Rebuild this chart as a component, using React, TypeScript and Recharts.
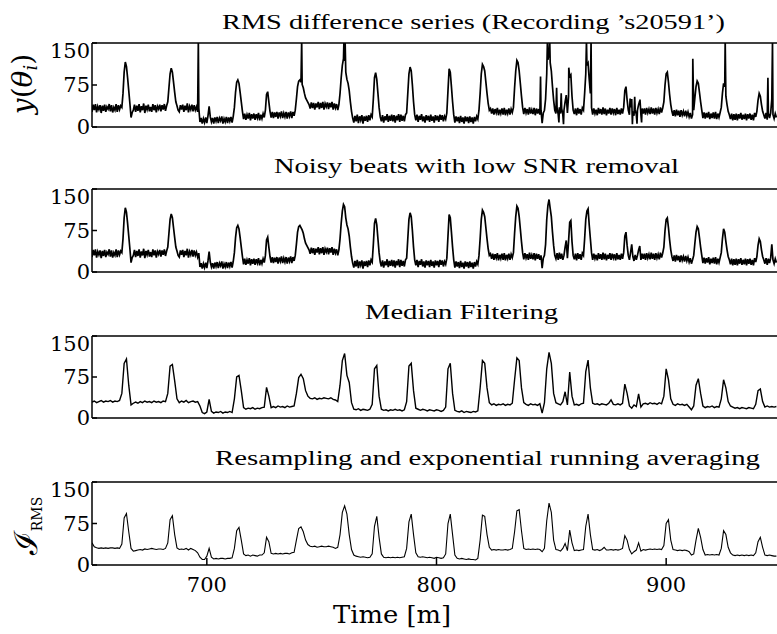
import React from "react";
import { LineChart, Line, XAxis, YAxis } from "recharts";

// time axis starts here; noisy series are sampled every half minute, filtered ones every minute
const startMinute = 650;
const timeDomain: [number, number] = [650, 950];
const timeTicks = [700, 800, 900];
const levelTicks = [0, 75, 150];

// low SNR beats removed (panel 2), also the base of the raw series (0.5 min steps)
const snrValues = [
  27, 40, 30, 41, 26, 37, 31, 39, 25, 38, 29, 40, 27, 36, 32, 41, 28, 39, 26, 35,
  30, 41, 27, 39, 31, 38, 35, 60, 98, 116, 108, 88, 65, 42, 17, 26, 30, 40, 27, 38,
  29, 41, 26, 37, 30, 42, 25, 38, 31, 40, 28, 36, 27, 41, 30, 39, 26, 37, 32, 40,
  28, 39, 31, 41, 29, 38, 45, 70, 95, 105, 98, 80, 62, 45, 38, 30, 27, 39, 31, 40,
  27, 38, 30, 42, 26, 37, 31, 40, 28, 39, 30, 36, 27, 34, 9, 16, 6, 15, 8, 17,
  7, 20, 37, 18, 9, 16, 6, 17, 10, 18, 7, 16, 11, 19, 6, 15, 9, 18, 7, 17,
  10, 18, 8, 19, 35, 62, 80, 84, 78, 62, 45, 28, 14, 24, 13, 22, 15, 25, 12, 23,
  15, 24, 13, 23, 16, 25, 12, 22, 15, 24, 17, 30, 58, 63, 45, 28, 17, 27, 16, 26,
  18, 27, 15, 26, 19, 28, 16, 25, 18, 27, 15, 26, 19, 28, 16, 27, 20, 30, 50, 72,
  82, 84, 80, 76, 70, 60, 52, 48, 44, 40, 33, 44, 34, 43, 31, 42, 35, 45, 32, 43,
  34, 45, 31, 42, 36, 44, 32, 43, 35, 45, 31, 42, 34, 41, 30, 40, 60, 88, 110, 122,
  118, 98, 85, 78, 65, 45, 28, 16, 8, 20, 10, 22, 7, 19, 12, 21, 6, 19, 11, 20,
  9, 21, 12, 22, 18, 50, 88, 97, 85, 60, 35, 18, 10, 21, 8, 19, 12, 23, 9, 20,
  11, 22, 10, 21, 8, 20, 12, 23, 9, 22, 11, 20, 10, 22, 25, 60, 95, 107, 100, 75,
  45, 22, 12, 22, 9, 20, 13, 23, 10, 19, 8, 21, 12, 20, 9, 22, 11, 19, 8, 21,
  12, 20, 9, 22, 13, 21, 10, 19, 14, 25, 65, 104, 98, 72, 45, 22, 8, 19, 10, 18,
  7, 20, 9, 17, 6, 19, 10, 18, 7, 19, 9, 17, 6, 18, 10, 19, 14, 30, 60, 95,
  112, 108, 100, 80, 60, 42, 30, 33, 24, 33, 22, 32, 25, 34, 21, 31, 24, 33, 22, 34,
  21, 31, 24, 33, 22, 32, 26, 35, 70, 100, 119, 115, 100, 78, 55, 35, 23, 34, 25, 32,
  22, 35, 24, 31, 23, 34, 21, 33, 24, 32, 22, 30, 7, 25, 30, 50, 95, 120, 131, 115,
  100, 72, 48, 30, 24, 34, 22, 35, 24, 33, 22, 30, 45, 57, 25, 55, 90, 93, 55, 30,
  23, 33, 21, 34, 24, 32, 22, 34, 30, 60, 95, 110, 114, 85, 60, 35, 22, 33, 24, 31,
  21, 34, 24, 32, 22, 35, 23, 33, 21, 31, 24, 34, 22, 33, 25, 32, 21, 34, 23, 31,
  22, 33, 24, 35, 65, 72, 48, 30, 22, 35, 50, 28, 20, 31, 22, 30, 40, 47, 22, 33,
  24, 33, 22, 34, 25, 32, 23, 35, 24, 33, 22, 34, 25, 32, 23, 35, 26, 34, 45, 75,
  95, 98, 80, 58, 40, 28, 20, 30, 19, 31, 21, 29, 18, 30, 21, 28, 19, 29, 20, 27,
  18, 25, 15, 22, 30, 52, 72, 82, 78, 62, 45, 30, 16, 26, 15, 25, 17, 27, 14, 24,
  16, 26, 15, 27, 14, 24, 17, 26, 35, 60, 78, 72, 55, 40, 28, 22, 14, 24, 12, 23,
  13, 24, 12, 23, 15, 25, 13, 22, 14, 24, 12, 23, 15, 24, 13, 22, 12, 25, 18, 28,
  48, 60, 55, 40, 28, 22, 15, 25, 13, 24, 16, 25, 50, 22, 15, 24, 17,
];

// artefacts only present in the raw difference series: [minute, value]
const rawBursts: [number, number][] = [
  [696.3, 155], [741.3, 155], [759.7, 155], [760.2, 155],
  [845.3, 90], [848.3, 155], [849.3, 155], [852.3, 70],
  [853.3, 8], [854.3, 60], [855.3, 5], [857.6, 106],
  [865.3, 155], [867.3, 155],
  [884.3, 51], [885.3, 5], [886.3, 54], [887.3, 6], [888.6, 49], [889.3, 8],
  [911.6, 122], [925.7, 155], [944.3, 88], [946.3, 155],
];

// median filtered (1 min steps)
const medianValues = [
  29, 31, 28, 30, 32, 29, 31, 30, 32, 29,
  31, 30, 32, 45, 100, 108, 60, 24, 27, 29,
  27, 30, 28, 31, 29, 30, 28, 31, 29, 30,
  28, 31, 30, 45, 95, 98, 68, 35, 28, 31,
  29, 32, 28, 30, 31, 29, 30, 22, 10, 8,
  11, 34, 12, 9, 11, 10, 12, 9, 11, 10,
  12, 10, 35, 75, 78, 50, 19, 16, 18, 17,
  19, 16, 18, 17, 19, 20, 56, 40, 19, 21,
  19, 22, 20, 21, 19, 22, 20, 21, 22, 45,
  74, 80, 72, 50, 40, 36, 35, 37, 34, 36,
  35, 37, 36, 35, 37, 34, 33, 30, 60, 105,
  118, 78, 65, 28, 16, 15, 17, 14, 16, 15,
  14, 16, 25, 90, 96, 40, 16, 14, 15, 13,
  15, 14, 16, 14, 15, 13, 15, 30, 95, 100,
  50, 18, 16, 14, 16, 15, 13, 15, 14, 13,
  15, 14, 12, 14, 20, 90, 100, 45, 14, 12,
  11, 13, 10, 12, 11, 10, 12, 11, 13, 55,
  105, 100, 55, 28, 24, 26, 23, 25, 24, 26,
  23, 25, 24, 27, 70, 110, 105, 55, 28, 25,
  23, 26, 24, 25, 23, 26, 9, 28, 90, 120,
  100, 45, 28, 26, 24, 30, 48, 24, 84, 40,
  24, 25, 23, 26, 27, 85, 106, 55, 27, 25,
  26, 24, 26, 25, 24, 27, 33, 25, 24, 26,
  24, 27, 62, 45, 22, 18, 24, 21, 44, 20,
  26, 27, 25, 28, 26, 27, 25, 28, 26, 40,
  90, 70, 35, 25, 23, 26, 24, 25, 23, 25,
  20, 15, 22, 60, 72, 45, 22, 19, 21, 20,
  22, 19, 21, 20, 35, 70, 55, 30, 22, 20,
  18, 19, 17, 19, 18, 17, 19, 18, 17, 25,
  50, 53, 30, 20, 22, 20, 21, 20, 21,
];

// resampled + exponential running average (1 min steps)
const averagedValues = [
  40, 33, 31, 30, 31, 30, 31, 30, 31, 31,
  30, 31, 30, 38, 85, 93, 60, 30, 25, 26,
  27, 28, 27, 29, 28, 29, 30, 29, 28, 29,
  29, 28, 30, 40, 82, 89, 55, 31, 28, 29,
  28, 30, 27, 30, 28, 26, 22, 14, 10, 10,
  16, 30, 14, 11, 12, 11, 12, 12, 11, 12,
  12, 13, 30, 62, 68, 45, 20, 17, 18, 16,
  18, 17, 16, 18, 18, 22, 50, 42, 21, 20,
  21, 20, 21, 20, 21, 21, 20, 22, 23, 45,
  66, 69, 60, 45, 37, 34, 33, 34, 32, 33,
  34, 33, 33, 34, 33, 32, 30, 32, 55, 95,
  107, 92, 55, 28, 18, 16, 15, 14, 15, 14,
  13, 14, 20, 70, 88, 50, 20, 14, 13, 14,
  13, 14, 13, 14, 13, 14, 15, 30, 78, 92,
  55, 22, 15, 14, 15, 14, 13, 14, 13, 12,
  14, 13, 12, 13, 20, 75, 92, 55, 18, 12,
  11, 12, 11, 10, 11, 10, 10, 9, 12, 45,
  90, 88, 55, 32, 27, 28, 27, 28, 27, 27,
  28, 27, 28, 30, 60, 98, 100, 62, 30, 28,
  29, 28, 29, 28, 29, 28, 24, 30, 80, 112,
  95, 45, 28, 27, 25, 30, 39, 26, 63, 40,
  26, 27, 26, 27, 28, 70, 92, 55, 28, 27,
  28, 26, 28, 32, 27, 27, 28, 27, 28, 27,
  28, 30, 53, 45, 28, 20, 24, 27, 40, 25,
  28, 27, 28, 29, 28, 29, 28, 29, 28, 35,
  75, 82, 45, 28, 27, 26, 27, 26, 27, 26,
  24, 18, 20, 45, 66, 50, 28, 18, 19, 18,
  19, 18, 19, 18, 30, 62, 55, 32, 22, 18,
  17, 18, 17, 18, 17, 18, 17, 18, 17, 22,
  42, 50, 32, 18, 17, 18, 17, 16, 16,
];

type Row = { t: number; v: number };

const toRows = (vals: number[], step: number): Row[] =>
  vals.map((v, i) => ({ t: startMinute + i * step, v }));

const snrRows = toRows(snrValues, 0.5);
const rawRows = [...snrRows, ...rawBursts.map(([t, v]) => ({ t, v }))].sort(
  (a, b) => a.t - b.t
);
const medianRows = toRows(medianValues, 1);
const averagedRows = toRows(averagedValues, 1);

const serif = "DejaVu Serif";
const frame = { stroke: "#000", strokeWidth: 1.5 };
const tickFont = { fill: "#000", fontSize: 21, fontFamily: serif };

interface PanelProps {
  rows: Row[];
  top: number;
  plotH: number;
  lineW: number;
  showTime?: boolean;
}

function Panel({ rows, top, plotH, lineW, showTime }: PanelProps) {
  const bottomH = showTime ? 50 : 1;
  const bottomPad = showTime ? 2 : 14;
  return (
    <div style={{ position: "absolute", left: 0, top: top - 5 }}>
      <LineChart
        width={800}
        height={4 + 1 + plotH + bottomH + bottomPad}
        data={rows}
        margin={{ top: 4, right: 0, bottom: bottomPad, left: 0 }}
      >
        <XAxis
          xAxisId="b"
          dataKey="t"
          type="number"
          domain={timeDomain}
          allowDataOverflow
          ticks={timeTicks}
          height={bottomH}
          tickSize={-7}
          tickMargin={19}
          axisLine={frame}
          tickLine={showTime ? frame : false}
          tick={showTime ? tickFont : false}
        />
        <XAxis
          xAxisId="t"
          dataKey="t"
          type="number"
          orientation="top"
          domain={timeDomain}
          allowDataOverflow
          ticks={timeTicks}
          height={1}
          tickSize={-7}
          axisLine={frame}
          tickLine={showTime ? frame : false}
          tick={false}
        />
        <YAxis
          yAxisId="l"
          type="number"
          domain={[0, 150]}
          allowDataOverflow
          ticks={levelTicks}
          width={92}
          tickSize={-5}
          tickMargin={7}
          axisLine={frame}
          tickLine={frame}
          tick={tickFont}
        />
        <YAxis
          yAxisId="r"
          orientation="right"
          type="number"
          domain={[0, 150]}
          allowDataOverflow
          ticks={levelTicks}
          width={19}
          tickSize={-5}
          axisLine={frame}
          tickLine={frame}
          tick={false}
        />
        <Line
          xAxisId="b"
          yAxisId="l"
          dataKey="v"
          type="linear"
          stroke="#000"
          strokeWidth={lineW}
          dot={false}
          isAnimationActive={false}
        />
      </LineChart>
    </div>
  );
}

export default function App() {
  return (
    <div
      style={{
        position: "fixed",
        left: 0,
        top: 0,
        width: 777,
        height: 634,
        overflow: "hidden",
        background: "#fff",
      }}
    >
      <Panel rows={rawRows} top={43} plotH={84} lineW={1.7} />
      <Panel rows={snrRows} top={189} plotH={83} lineW={1.7} />
      <Panel rows={medianRows} top={336} plotH={82} lineW={1.4} />
      <Panel rows={averagedRows} top={482} plotH={83} lineW={1.1} showTime />

      {/* titles and axis labels */}
      <svg
        width={777}
        height={634}
        style={{ position: "absolute", left: 0, top: 0, pointerEvents: "none" }}
        fontFamily={serif}
        fill="#000"
      >
        <g fontFamily="Liberation Serif" fontSize={20}>
          <text x={222} y={28.5} textLength={503} lengthAdjust="spacingAndGlyphs">
            RMS difference series (Recording ’s20591’)
          </text>
          <text x={274} y={172.5} textLength={405} lengthAdjust="spacingAndGlyphs">
            Noisy beats with low SNR removal
          </text>
          <text x={365} y={318.5} textLength={193} lengthAdjust="spacingAndGlyphs">
            Median Filtering
          </text>
          <text x={215} y={465} textLength={545} lengthAdjust="spacingAndGlyphs">
            Resampling and exponential running averaging
          </text>
        </g>
        <text x={333} y={623} fontSize={24} textLength={118} lengthAdjust="spacingAndGlyphs">
          Time [m]
        </text>
        <text transform="translate(32,84) rotate(-90)" textAnchor="middle" fontSize={28}>
          <tspan fontStyle="italic">y</tspan>(<tspan fontStyle="italic">θ</tspan>
          <tspan fontStyle="italic" fontSize={18} dy={5}>i</tspan>
          <tspan dy={-5}>)</tspan>
        </text>
        <text transform="translate(37,526) rotate(-90)" textAnchor="middle">
          <tspan fontSize={32}>ℐ</tspan>
          <tspan fontSize={14} dy={5}>RMS</tspan>
        </text>
      </svg>
    </div>
  );
}
